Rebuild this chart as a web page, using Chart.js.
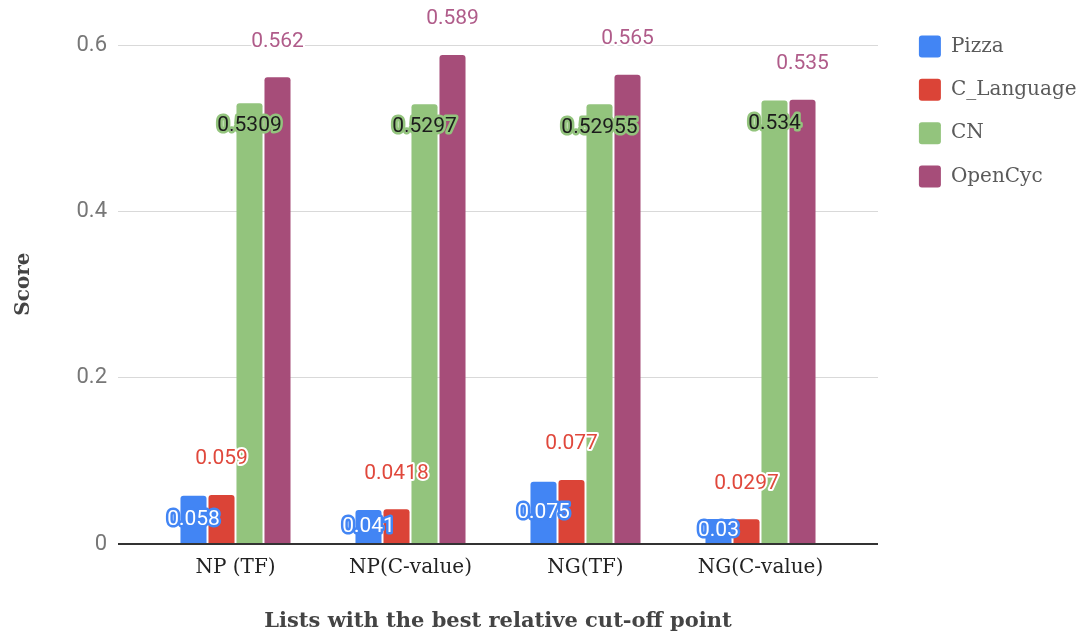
<!DOCTYPE html>
<html>
<head>
<meta charset="utf-8">
<script src="https://cdn.jsdelivr.net/npm/chart.js@4/dist/chart.umd.min.js"></script>
<style>
  html, body { margin: 0; background: #ffffff; }
  #wrap { width: 1089px; height: 639px; }
</style>
</head>
<body>
<div id="wrap"><canvas id="chart" width="1089" height="639"></canvas></div>
<script>
// Scores per term list and ontology
const categories = ['NP (TF)', 'NP(C-value)', 'NG(TF)', 'NG(C-value)'];
const pizza      = [0.058, 0.041, 0.075, 0.03];
const cLanguage  = [0.059, 0.0418, 0.077, 0.0297];
const cn         = [0.5309, 0.5297, 0.52955, 0.534];
const openCyc    = [0.562, 0.589, 0.565, 0.535];
const yTicks     = [0, 0.2, 0.4, 0.6];

const SERIF = "'DejaVu Serif', serif";
const SANS = "Roboto, 'Noto Sans', sans-serif";
const GRID = '#d9d9d9';
const ZERO = '#333333';
const PAD_RIGHT = 12;
const Y_MAX = 0.626;

// Value labels: halo text placed above, inside or in the middle of each bar
const valueLabels = {
  id: 'valueLabels',
  afterDatasetsDraw(chart) {
    const ctx = chart.ctx;
    chart.data.datasets.forEach((ds, i) => {
      const meta = chart.getDatasetMeta(i);
      const st = ds.valueLabel;
      ctx.save();
      ctx.font = '21px ' + SANS;
      ctx.textAlign = 'center';
      ctx.textBaseline = 'middle';
      ctx.lineJoin = 'round';
      ctx.lineWidth = st.halo;
      meta.data.forEach((bar, j) => {
        const text = String(ds.data[j]);
        let y;
        if (st.place === 'middle') y = (bar.y + bar.base) / 2;
        else if (st.place === 'inside') y = bar.y + st.offset;
        else y = bar.y - st.offset;
        ctx.strokeStyle = st.stroke;
        ctx.strokeText(text, bar.x, y);
        ctx.fillStyle = st.fill;
        ctx.fillText(text, bar.x, y);
      });
      ctx.restore();
    });
  }
};

const barStyle = {
  borderRadius: { topLeft: 3, topRight: 3 },
  borderSkipped: 'start',
  categoryPercentage: 0.64,
  barPercentage: 0.93
};

const useTicks = s => { s.ticks = yTicks.map(v => ({ value: v })); };
const gridColor = c => (c.tick && c.tick.value === 0 ? ZERO : GRID);
const gridWidth = c => (c.tick && c.tick.value === 0 ? 2 : 1);

new Chart(document.getElementById('chart'), {
  type: 'bar',
  data: {
    labels: categories,
    datasets: [
      Object.assign({ label: 'Pizza', data: pizza, backgroundColor: '#4285f4',
        valueLabel: { place: 'middle', fill: '#ffffff', stroke: '#4285f4', halo: 5 } }, barStyle),
      Object.assign({ label: 'C_Language', data: cLanguage, backgroundColor: '#db4437',
        valueLabel: { place: 'above', offset: 36, fill: '#e0483c', stroke: '#ffffff', halo: 4 } }, barStyle),
      Object.assign({ label: 'CN', data: cn, backgroundColor: '#93c47d',
        valueLabel: { place: 'inside', offset: 23, fill: '#1c1c1c', stroke: '#93c47d', halo: 5 } }, barStyle),
      Object.assign({ label: 'OpenCyc', data: openCyc, backgroundColor: '#a64d79',
        valueLabel: { place: 'above', offset: 36, fill: '#b05c8a', stroke: '#ffffff', halo: 4 } }, barStyle)
    ]
  },
  options: {
    responsive: false,
    animation: false,
    layout: { padding: { top: 14, right: PAD_RIGHT, bottom: 0, left: 0 } },
    plugins: {
      tooltip: { enabled: false },
      legend: {
        position: 'right',
        align: 'start',
        labels: {
          boxWidth: 22,
          boxHeight: 22,
          padding: 21.4,
          useBorderRadius: true,
          borderRadius: 3,
          color: '#5a5a5a',
          font: { family: SERIF, size: 20 }
        }
      }
    },
    scales: {
      x: {
        grid: { display: false, drawTicks: false },
        border: { display: false },
        ticks: { color: '#222222', padding: 12, font: { family: SERIF, size: 20 } },
        title: {
          display: true,
          text: 'Lists with the best relative cut-off point',
          color: '#444444',
          font: { family: SERIF, size: 21, weight: 'bold' },
          padding: { top: 4, bottom: 5 }
        },
        afterFit: s => { s.height = 95; }
      },
      y: {
        min: 0,
        max: Y_MAX,
        afterBuildTicks: useTicks,
        grid: { color: gridColor, lineWidth: gridWidth, tickColor: gridColor, tickLength: 30 },
        border: { display: false },
        ticks: { color: '#777777', padding: 11, font: { family: SANS, size: 22 } },
        title: {
          display: true,
          text: 'Score',
          color: '#444444',
          font: { family: SERIF, size: 20, weight: 'bold' },
          padding: { top: 12, bottom: 4 }
        },
        afterFit: s => { s.width = 148; }
      },
      y2: {
        position: 'right',
        min: 0,
        max: Y_MAX,
        afterBuildTicks: useTicks,
        grid: { drawOnChartArea: false, color: gridColor, lineWidth: gridWidth, tickColor: gridColor, tickLength: 30 },
        border: { display: false },
        ticks: { display: false },
        afterFit: s => {
          const legendLeft = s.chart.width - PAD_RIGHT - s.chart.legend.width;
          s.width = legendLeft - 848;
        }
      }
    }
  },
  plugins: [valueLabels]
});
</script>
</body>
</html>
